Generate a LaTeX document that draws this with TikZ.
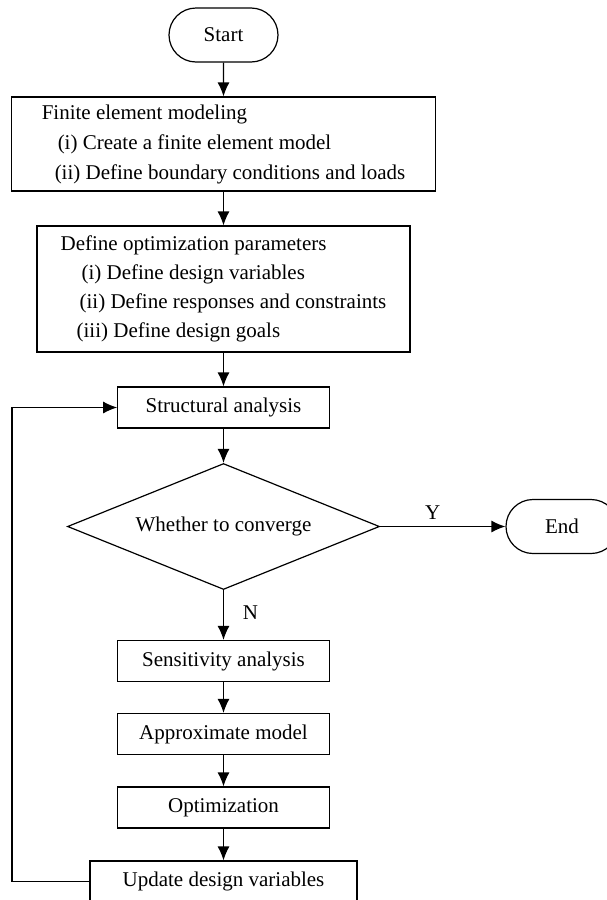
\documentclass[tikz,border=0pt]{standalone}
\usepackage{fontspec}
\setmainfont{Liberation Serif}
\usetikzlibrary{shapes,arrows.meta}

\begin{document}
\begin{tikzpicture}[x=0.5pt,y=-0.5pt,line width=0.6pt,
  font=\fontsize{10.5}{14.4}\selectfont,
  box/.style={draw,minimum width=105.75pt,minimum height=20.5pt,inner sep=0pt},
  listbox/.style={draw,align=left,inner sep=0pt},
  term/.style={draw,rounded rectangle,minimum height=27pt,inner sep=0pt},
  arr/.style={-{Latex[length=7pt,width=6pt]}}]
\useasboundingbox (0,0) rectangle (606,900);
% nodes
\node [term,minimum width=54.5pt] (start) at (223.5,35) {Start};
\node [listbox,minimum width=212pt,minimum height=47pt,font=\fontsize{10.5}{15}\selectfont] (fem) at (223.5,144)
  {Finite element modeling\\ \hspace*{8pt}(i) Create a finite element model\\ \hspace*{6.5pt}(ii) Define boundary conditions and loads};
\node [listbox,minimum width=186.5pt,minimum height=63pt] (param) at (223.5,289)
  {Define optimization parameters\\ \hspace*{10.5pt}(i) Define design variables\\ \hspace*{9.5pt}(ii) Define responses and constraints\\ \hspace*{8pt}(iii) Define design goals};
\node [box] (struct) at (223.5,407.5) {Structural analysis};
\node [draw,diamond,aspect=2.48,minimum width=156pt,minimum height=63pt,inner sep=0pt] (conv) at (223.5,526.5) {Whether to converge};
\node [term,minimum width=56pt] (end) at (562,526.5) {End};
\node [box] (sens) at (223.5,661) {Sensitivity analysis};
\node [box] (approx) at (223.5,734) {Approximate model};
\node [box] (optim) at (223.5,807.5) {Optimization};
\node [box,minimum width=133.5pt] (update) at (223.5,881.5) {Update design variables};
\coordinate (loop) at (12,650);
% connectors
\draw [arr] (start) -- (fem);
\draw [arr] (fem) -- (param);
\draw [arr] (param) -- (struct);
\draw [arr] (struct) -- (conv);
\draw [arr] (conv) -- node [above,pos=0.42] {Y} (end);
\draw [arr] (conv) -- node [right=6pt,pos=0.45] {N} (sens);
\draw [arr] (sens) -- (approx);
\draw [arr] (approx) -- (optim);
\draw [arr] (optim) -- (update);
\draw [arr] (update.west) -| (loop) |- (struct.west);
\end{tikzpicture}
\end{document}
